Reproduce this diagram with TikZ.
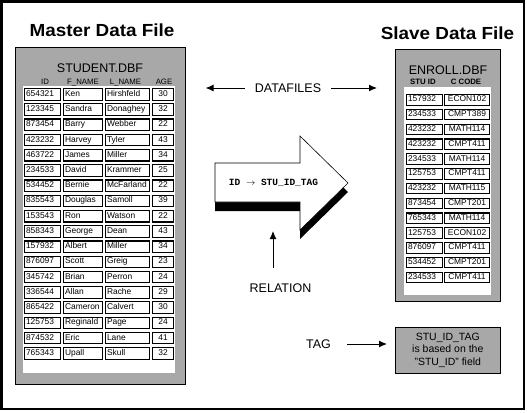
\documentclass[tikz,border=0pt]{standalone}
\usepackage{fontspec}
\setmainfont{Liberation Sans}
\newfontfamily\monofont{Liberation Mono}
\newfontfamily\titlefont[FakeStretch=1.08]{Liberation Sans}
\usetikzlibrary{arrows.meta}
\definecolor{boxgray}{RGB}{168,168,168}

\begin{document}
\begin{tikzpicture}[x=1pt, y=-1pt,
    lbl/.style={font=\fontsize{12.5}{14}\selectfont, inner sep=0},
    ttl/.style={font=\titlefont\fontsize{17.5}{18}\selectfont\bfseries, inner sep=0},
    hdr/.style={font=\fontsize{7.8}{8}\selectfont, inner sep=0, anchor=base},
    filebox/.style={draw, line width=0.6, fill=boxgray, anchor=north west, inner sep=0},
    cell/.style={draw, line width=1.1, fill=white, anchor=north west, inner xsep=1.5, inner ysep=0,
        text height=6, text depth=2, font=\fontsize{8.4}{8.4}\selectfont},
    lcell/.style={cell, align=left},
    ccell/.style={cell, align=center},
    pointer/.style={line width=1, -{Latex[length=8pt,width=7pt]}}]

\useasboundingbox (0,0) rectangle (527,412);
\draw[line width=2.5] (1.3,1.3) rectangle (524.2,409.2);

% master file
\node[ttl] (mastertitle) at (102,30.5) {Master Data File};
\node[filebox, minimum width=170, minimum height=337] (master) at (15,47) {};
\fill[white] (23,86) rectangle (175,373);
\node[lbl] (student) at (100,68) {STUDENT.DBF};
\node[hdr] (hid) at (45,84) {ID};
\node[hdr] (hfname) at (83,84) {F\_NAME};
\node[hdr] (hlname) at (125.5,84) {L\_NAME};
\node[hdr] (hage) at (164,84) {AGE};

\foreach \id/\fn/\ln/\age [count=\r from 0] in {
    654321/Ken/Hirshfeld/30, 123345/Sandra/Donaghey/32, 873454/Barry/Webber/22,
    423232/Harvey/Tyler/43, 463722/James/Miller/34, 234533/David/Krammer/25,
    534452/Bernie/McFarland/22, 835543/Douglas/Samoll/39, 153543/Ron/Watson/22,
    858343/George/Dean/43, 157932/Albert/Miller/34, 876097/Scott/Greig/23,
    345742/Brian/Perron/24, 336544/Allan/Rache/29, 865422/Cameron/Calvert/30,
    125753/Reginald/Page/24, 874532/Eric/Lane/41, 765343/Upall/Skull/32} {
    \pgfmathsetmacro\rowy{88+\r*15.24}
    \node[lcell, text width=33, minimum height=11.5] (mid\r) at (24,\rowy) {\id};
    \node[lcell, text width=36, minimum height=11.5] (mfn\r) at (63,\rowy) {\fn};
    \node[lcell, text width=41, minimum height=11.5] (mln\r) at (105,\rowy) {\ln};
    \node[ccell, text width=18, minimum height=11.5] (mage\r) at (152,\rowy) {\age};
}

% slave file
\node[ttl] (slavetitle) at (447.5,33.5) {Slave Data File};
\node[filebox, minimum width=105, minimum height=252] (slave) at (395,49) {};
\fill[white] (404,87) rectangle (491,295);
\node[lbl] (enroll) at (448,70) {ENROLL.DBF};
\node[hdr, font=\fontsize{7.8}{8}\selectfont\bfseries] (hstuid) at (423,84) {STU ID};
\node[hdr, font=\fontsize{7.8}{8}\selectfont\bfseries] (hccode) at (466,84) {C CODE};

\foreach \id/\code [count=\r from 0] in {
    157932/ECON102, 234533/CMPT389, 423232/MATH114, 423232/CMPT411,
    234533/MATH114, 125753/CMPT411, 423232/MATH115, 873454/CMPT201,
    765343/MATH114, 125753/ECON102, 876097/CMPT411, 534452/CMPT201,
    234533/CMPT411} {
    \pgfmathsetmacro\rowy{94+\r*14.8}
    \node[lcell, text width=33, minimum height=10.5] (sid\r) at (406,\rowy) {\id};
    \node[ccell, text width=42, minimum height=10.5] (scode\r) at (444,\rowy) {\code};
}

% datafiles
\node[lbl, inner sep=10] (datafiles) at (288,88) {DATAFILES};
\draw[pointer, shorten >=20] (datafiles.west) -- (datafiles.west -| master.east);
\draw[pointer, shorten >=18] (datafiles.east) -- (datafiles.east -| slave.west);

% relation arrow
\fill[black] (215,172) -- (300,172) -- (300,145) -- (348,192) -- (300,239) -- (300,211) -- (215,211) -- cycle;
\draw[fill=white, line width=0.6] (215,163) -- (300,163) -- (300,136) -- (348,183) -- (300,230) -- (300,202) -- (215,202) -- cycle;
\node[font=\monofont\fontsize{9.5}{10}\selectfont\bfseries, inner sep=0] (relkey) at (273.5,182.5) {ID $\rightarrow$ STU\_ID\_TAG};

\node[lbl] (relation) at (280.5,288.5) {RELATION};
\coordinate (relfoot) at (273,268);
\coordinate (reltip) at (273,231);
\draw[pointer] (relfoot) -- (reltip);

% tag
\node[filebox, minimum width=105, minimum height=46] (tagbox) at (395,327) {};
\node[font=\fontsize{10.5}{12.8}\selectfont, align=center, inner sep=0] (tagtext) at (tagbox.center) {STU\_ID\_TAG\\is based on the\\"STU\_ID" field};
\node[lbl, inner sep=0] (tag) at (318.5,344) {TAG};
\draw[pointer, shorten <=16, shorten >=8] (tag.east) -- (tag.east -| tagbox.west);

\end{tikzpicture}
\end{document}
